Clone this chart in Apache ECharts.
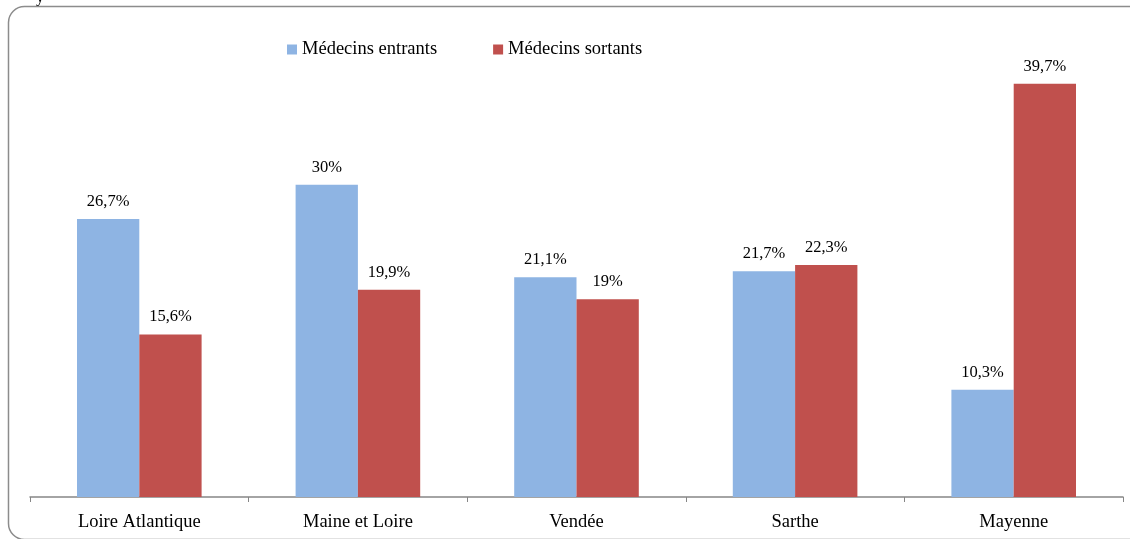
<!DOCTYPE html>
<html><head><meta charset="utf-8">
<script src="https://cdn.jsdelivr.net/npm/echarts@6/dist/echarts.min.js"></script>
<style>html,body{margin:0;padding:0;background:#fff}#c{width:1130px;height:539px}</style>
</head><body><div id="c"></div>
<script>
const categories = ['Loire Atlantique', 'Maine et Loire', 'Vendée', 'Sarthe', 'Mayenne'];
const entrants = [26.7, 30, 21.1, 21.7, 10.3];
const sortants = [15.6, 19.9, 19, 22.3, 39.7];
const seriesNames = ['Médecins entrants', 'Médecins sortants'];
const FONT = 'Liberation Serif';
const fmt = p => String(p.value).replace('.', ',') + '%';
const chart = echarts.init(document.getElementById('c'), null, {renderer: 'canvas'});
chart.setOption({
  animation: false,
  textStyle: {fontFamily: FONT},
  graphic: [
    {type: 'rect', shape: {x: 8.5, y: 6.5, width: 1140, height: 533, r: 16}, style: {fill: 'none', stroke: '#8c8c8c', lineWidth: 1.5}, z: -1},
    {type: 'text', left: 36, top: -10, style: {text: 'y', font: '16px Liberation Serif', fill: '#000'}}
  ],
  legend: {
    left: 282, top: 35, itemWidth: 10, itemHeight: 10, itemGap: 56, icon: 'rect',
    textStyle: {fontFamily: FONT, fontSize: 18.5, color: '#000'},
    data: seriesNames
  },
  grid: {left: 30, right: 7, top: 28.6, bottom: 42, containLabel: false},
  xAxis: {
    type: 'category', data: categories,
    axisLine: {lineStyle: {color: '#868686', width: 1.5}},
    axisTick: {show: true, length: 5, lineStyle: {color: '#868686'}},
    axisLabel: {fontFamily: FONT, fontSize: 18.5, color: '#000', margin: 16}
  },
  yAxis: {type: 'value', min: 0, max: 45, show: false, splitLine: {show: false}},
  series: [
    {name: seriesNames[0], type: 'bar', data: entrants, barGap: '0%', barCategoryGap: '43%',
     itemStyle: {color: '#8EB4E3'},
     label: {show: true, position: 'top', distance: 9, formatter: fmt, fontFamily: FONT, fontSize: 16.5, color: '#000'}},
    {name: seriesNames[1], type: 'bar', data: sortants,
     itemStyle: {color: '#C0504D'},
     label: {show: true, position: 'top', distance: 9, formatter: fmt, fontFamily: FONT, fontSize: 16.5, color: '#000'}}
  ]
});
</script></body></html>
